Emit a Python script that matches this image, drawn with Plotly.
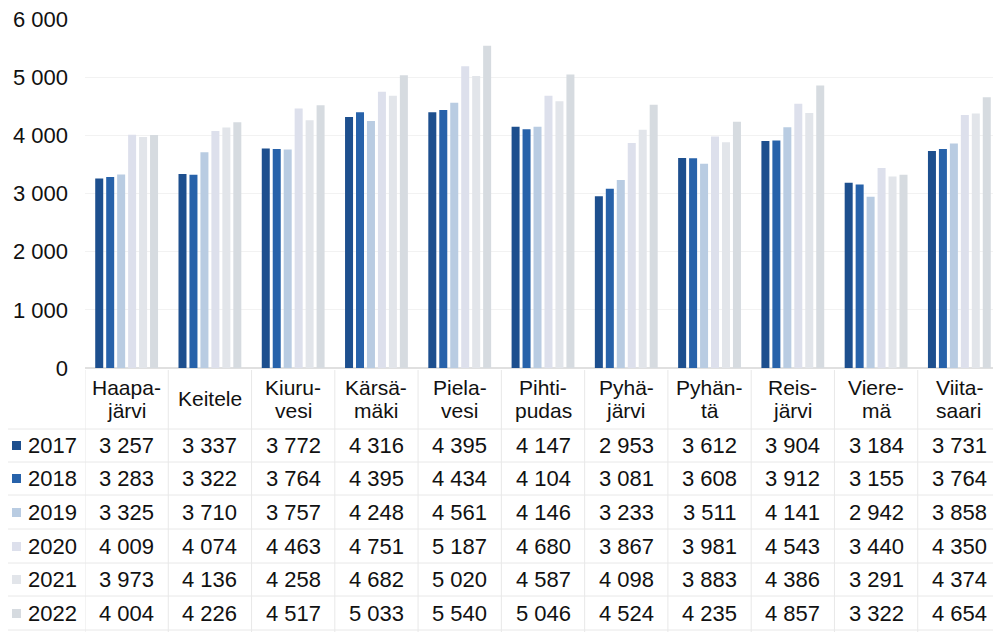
import plotly.graph_objects as go

categories = ["Haapajärvi", "Keitele", "Kiuruvesi", "Kärsämäki", "Pielavesi",
              "Pihtipudas", "Pyhäjärvi", "Pyhäntä", "Reisjärvi", "Vieremä", "Viitasaari"]
cat_line1 = ["Haapa-", "Keitele", "Kiuru-", "Kärsä-", "Piela-", "Pihti-", "Pyhä-", "Pyhän-",
             "Reis-", "Viere-", "Viita-"]
cat_line2 = ["järvi", "", "vesi", "mäki", "vesi", "pudas", "järvi", "tä", "järvi", "mä", "saari"]
years = ["2017", "2018", "2019", "2020", "2021", "2022"]
v2017 = [3257, 3337, 3772, 4316, 4395, 4147, 2953, 3612, 3904, 3184, 3731]
v2018 = [3283, 3322, 3764, 4395, 4434, 4104, 3081, 3608, 3912, 3155, 3764]
v2019 = [3325, 3710, 3757, 4248, 4561, 4146, 3233, 3511, 4141, 2942, 3858]
v2020 = [4009, 4074, 4463, 4751, 5187, 4680, 3867, 3981, 4543, 3440, 4350]
v2021 = [3973, 4136, 4258, 4682, 5020, 4587, 4098, 3883, 4386, 3291, 4374]
v2022 = [4004, 4226, 4517, 5033, 5540, 5046, 4524, 4235, 4857, 3322, 4654]
series = [v2017, v2018, v2019, v2020, v2021, v2022]
colors = ["#1d4f8e", "#2762aa", "#b9cce2", "#dde0ec", "#e2e5ea", "#d6dbe0"]

OFF = 8  # default page body margin
W, H = 1001 - OFF, 632 - OFF
# page-pixel positions of plot area
P_LEFT, P_TOP, P_ZERO = 85, 19, 368
L = P_LEFT - OFF
T = P_TOP - OFF
B = 632 - P_ZERO
R = 0
plot_h = P_ZERO - P_TOP


def py(pix):
    # page pixel y -> paper coordinate
    return (P_ZERO - pix) / plot_h


def px(pix):
    return (pix - P_LEFT) / (1001 - P_LEFT)


fig = go.Figure()
for yr, vals, c in zip(years, series, colors):
    fig.add_trace(go.Bar(x=categories, y=vals, name=yr, marker_color=c,
                         marker_line_width=0, showlegend=False))

font = "Liberation Sans, Arial, sans-serif"
FS = 22
ann = []
shapes = []
# category labels
for cat, l1, l2 in zip(categories, cat_line1, cat_line2):
    if l2:
        ann.append(dict(x=cat, y=py(387), xref="x", yref="paper", text=l1, showarrow=False,
                        font=dict(size=FS - 1, color="#111111", family=font),
                        xanchor="center", yanchor="middle"))
        ann.append(dict(x=cat, y=py(410), xref="x", yref="paper", text=l2, showarrow=False,
                        font=dict(size=FS - 1, color="#111111", family=font),
                        xanchor="center", yanchor="middle"))
    else:
        ann.append(dict(x=cat, y=py(398), xref="x", yref="paper", text=l1, showarrow=False,
                        font=dict(size=FS - 1, color="#111111", family=font),
                        xanchor="center", yanchor="middle"))
row_y = [445, 478, 512, 546, 579, 613]
for yr, vals, c, ry in zip(years, series, colors, row_y):
    ann.append(dict(x=px(26), y=py(ry), xref="paper", yref="paper", text=yr, showarrow=False,
                    font=dict(size=FS, color="#111111", family=font), xanchor="left",
                    yanchor="middle"))
    shapes.append(dict(type="rect", xref="paper", yref="paper", x0=px(12), x1=px(21),
                       y0=py(ry + 5), y1=py(ry - 4), fillcolor=c, line_width=0))
    for cat, v in zip(categories, vals):
        ann.append(dict(x=cat, y=py(ry), xref="x", yref="paper",
                        text=f"{v:,}".replace(",", " "), showarrow=False,
                        font=dict(size=FS, color="#111111", family=font), xanchor="center",
                        yanchor="middle"))
# table grid lines
for hy in [429, 462, 495, 529, 563, 596, 630]:
    shapes.append(dict(type="line", xref="paper", yref="paper", x0=px(0), x1=1,
                       y0=py(hy), y1=py(hy), line=dict(color="#e8e8e8", width=1)))
for i in range(len(categories)):
    shapes.append(dict(type="line", xref="x", yref="paper", x0=i - 0.5, x1=i - 0.5,
                       y0=py(370), y1=py(632), line=dict(color="#e8e8e8", width=1)))

fig.update_layout(
    width=W, height=H,
    margin=dict(l=L, r=R, t=T, b=B, pad=0),
    barmode="group", bargap=0.21, bargroupgap=0.27,
    plot_bgcolor="white", paper_bgcolor="white",
    separators=", ",
    font=dict(family=font, size=FS, color="#111111"),
    xaxis=dict(showticklabels=False, showgrid=False, zeroline=False, showline=False,
               range=[-0.5, 10.5]),
    yaxis=dict(range=[0, 6000], tickvals=[0, 1000, 2000, 3000, 4000, 5000, 6000],
               tickformat=",d", showgrid=True, gridcolor="#f2f2f2", gridwidth=1,
               zeroline=True, zerolinecolor="#e0e0e0", showline=False,
               ticklabelstandoff=16, ticklabeloverflow="allow",
               tickfont=dict(size=FS, color="#111111")),
    annotations=ann, shapes=shapes,
)
fig.write_html("out.html")
